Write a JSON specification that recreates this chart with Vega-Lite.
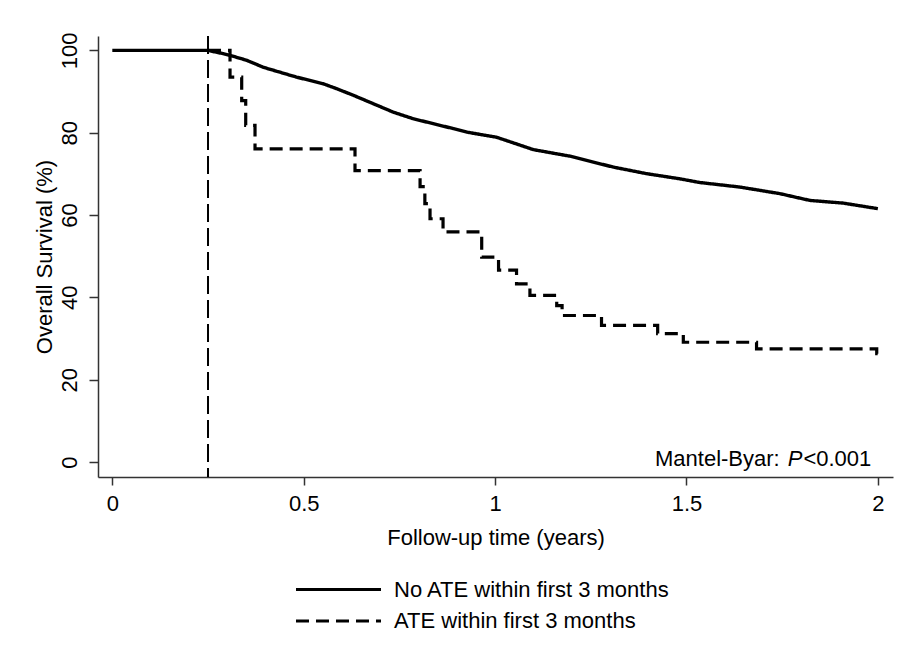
{
  "$schema": "https://vega.github.io/schema/vega-lite/v6.json",
  "width": 795,
  "height": 441,
  "autosize": {"type": "none"},
  "padding": {"left": 98, "top": 36, "right": 10, "bottom": 179},
  "background": "white",
  "config": {
    "view": {"stroke": null},
    "font": "Liberation Sans",
    "axis": {
      "grid": false,
      "domainColor": "#333333",
      "domainWidth": 1.5,
      "tickColor": "#333333",
      "tickWidth": 1.5,
      "labelFont": "Liberation Sans",
      "labelFontSize": 22,
      "labelColor": "black",
      "titleFont": "Liberation Sans",
      "titleFontSize": 22,
      "titleFontWeight": "normal",
      "titleColor": "black"
    },
    "legend": {
      "orient": "none",
      "legendX": 228,
      "legendY": 541,
      "symbolType": "M-4,0H4",
      "symbolSize": 451.6,
      "symbolStrokeWidth": 3,
      "symbolStrokeColor": "black",
      "labelFont": "Liberation Sans",
      "labelFontSize": 22,
      "labelColor": "black",
      "labelOffset": 43,
      "labelLimit": 0,
      "rowPadding": 7.5
    }
  },
  "datasets": {
    "curves": [
      {"t": 0, "s": 100, "g": "No ATE within first 3 months"},
      {"t": 0.25, "s": 100, "g": "No ATE within first 3 months"},
      {"t": 0.29, "s": 99.2, "g": "No ATE within first 3 months"},
      {"t": 0.3075, "s": 98.8, "g": "No ATE within first 3 months"},
      {"t": 0.351, "s": 97.6, "g": "No ATE within first 3 months"},
      {"t": 0.3945, "s": 95.9, "g": "No ATE within first 3 months"},
      {"t": 0.438, "s": 94.7, "g": "No ATE within first 3 months"},
      {"t": 0.4817, "s": 93.5, "g": "No ATE within first 3 months"},
      {"t": 0.551, "s": 91.9, "g": "No ATE within first 3 months"},
      {"t": 0.586, "s": 90.7, "g": "No ATE within first 3 months"},
      {"t": 0.6296, "s": 89.1, "g": "No ATE within first 3 months"},
      {"t": 0.6818, "s": 87.05, "g": "No ATE within first 3 months"},
      {"t": 0.734, "s": 85.0, "g": "No ATE within first 3 months"},
      {"t": 0.786, "s": 83.4, "g": "No ATE within first 3 months"},
      {"t": 0.8386, "s": 82.2, "g": "No ATE within first 3 months"},
      {"t": 0.8908, "s": 81.0, "g": "No ATE within first 3 months"},
      {"t": 0.9258, "s": 80.15, "g": "No ATE within first 3 months"},
      {"t": 1.004, "s": 78.9, "g": "No ATE within first 3 months"},
      {"t": 1.0998, "s": 75.9, "g": "No ATE within first 3 months"},
      {"t": 1.1957, "s": 74.3, "g": "No ATE within first 3 months"},
      {"t": 1.3088, "s": 71.65, "g": "No ATE within first 3 months"},
      {"t": 1.396, "s": 70.05, "g": "No ATE within first 3 months"},
      {"t": 1.483, "s": 68.8, "g": "No ATE within first 3 months"},
      {"t": 1.535, "s": 67.9, "g": "No ATE within first 3 months"},
      {"t": 1.6396, "s": 66.8, "g": "No ATE within first 3 months"},
      {"t": 1.744, "s": 65.2, "g": "No ATE within first 3 months"},
      {"t": 1.8226, "s": 63.55, "g": "No ATE within first 3 months"},
      {"t": 1.9096, "s": 62.9, "g": "No ATE within first 3 months"},
      {"t": 2.0, "s": 61.55, "g": "No ATE within first 3 months"},
      {"t": 0.25, "s": 100, "g": "ATE within first 3 months"},
      {"t": 0.3075, "s": 93.5, "g": "ATE within first 3 months"},
      {"t": 0.338, "s": 87.8, "g": "ATE within first 3 months"},
      {"t": 0.3485, "s": 81.8, "g": "ATE within first 3 months"},
      {"t": 0.3728, "s": 76.1, "g": "ATE within first 3 months"},
      {"t": 0.634, "s": 70.8, "g": "ATE within first 3 months"},
      {"t": 0.804, "s": 66.9, "g": "ATE within first 3 months"},
      {"t": 0.8165, "s": 62.8, "g": "ATE within first 3 months"},
      {"t": 0.83, "s": 59.1, "g": "ATE within first 3 months"},
      {"t": 0.864, "s": 55.9, "g": "ATE within first 3 months"},
      {"t": 0.965, "s": 49.8, "g": "ATE within first 3 months"},
      {"t": 1.009, "s": 46.6, "g": "ATE within first 3 months"},
      {"t": 1.056, "s": 43.3, "g": "ATE within first 3 months"},
      {"t": 1.091, "s": 40.5, "g": "ATE within first 3 months"},
      {"t": 1.161, "s": 38.0, "g": "ATE within first 3 months"},
      {"t": 1.175, "s": 35.6, "g": "ATE within first 3 months"},
      {"t": 1.278, "s": 33.2, "g": "ATE within first 3 months"},
      {"t": 1.4247, "s": 31.2, "g": "ATE within first 3 months"},
      {"t": 1.4917, "s": 29.1, "g": "ATE within first 3 months"},
      {"t": 1.683, "s": 27.5, "g": "ATE within first 3 months"},
      {"t": 1.997, "s": 26.3, "g": "ATE within first 3 months"},
      {"t": 2.0, "s": 26.3, "g": "ATE within first 3 months"}
    ],
    "landmark": [{"t": 0.25}],
    "ann": [
      {"t": 1.4177, "s": -0.9, "txt": "Mantel-Byar:", "it": false},
      {"t": 1.7645, "s": -0.9, "txt": "P", "it": true},
      {"t": 1.8055, "s": -0.9, "txt": "<0.001", "it": false}
    ]
  },
  "layer": [
    {
      "data": {"name": "landmark"},
      "mark": {"type": "rule", "color": "black", "strokeWidth": 2, "strokeDash": [18, 6]},
      "encoding": {
        "x": {"field": "t", "type": "quantitative", "scale": {"domain": [-0.0374, 2.0395], "nice": false, "zero": false}}
      }
    },
    {
      "data": {"name": "curves"},
      "transform": [{"filter": "datum.g == 'No ATE within first 3 months'"}],
      "mark": {"type": "line", "color": "black", "strokeWidth": 3.4, "interpolate": "linear"},
      "encoding": {
        "x": {"field": "t", "type": "quantitative", "scale": {"domain": [-0.0374, 2.0395], "nice": false, "zero": false},
          "axis": {"values": [0, 0.5, 1, 1.5, 2], "format": "~g", "title": "Follow-up time (years)", "tickSize": 8, "labelBaseline": "alphabetic", "labelPadding": 25, "titleBaseline": "alphabetic", "titlePadding": 30}},
        "y": {"field": "s", "type": "quantitative", "scale": {"domain": [-3.64, 103.5], "nice": false, "zero": false},
          "axis": {"values": [0, 20, 40, 60, 80, 100], "title": "Overall Survival (%)", "tickSize": 9, "labelAngle": -90, "labelAlign": "center", "labelBaseline": "alphabetic", "labelPadding": 13, "titleBaseline": "alphabetic", "titlePadding": 7}},
        "strokeDash": {"field": "g", "type": "nominal",
          "scale": {"domain": ["No ATE within first 3 months", "ATE within first 3 months"], "range": [[1, 0], [13, 7]]},
          "legend": {"title": null}}
      }
    },
    {
      "data": {"name": "curves"},
      "transform": [{"filter": "datum.g == 'ATE within first 3 months'"}],
      "mark": {"type": "line", "color": "black", "strokeWidth": 3.2, "interpolate": "step-after"},
      "encoding": {
        "x": {"field": "t", "type": "quantitative"},
        "y": {"field": "s", "type": "quantitative"},
        "strokeDash": {"field": "g", "type": "nominal"}
      }
    },
    {
      "data": {"name": "ann"},
      "transform": [{"filter": "!datum.it"}],
      "mark": {"type": "text", "align": "left", "baseline": "alphabetic", "fontSize": 22, "font": "Liberation Sans", "color": "black"},
      "encoding": {
        "x": {"field": "t", "type": "quantitative"},
        "y": {"field": "s", "type": "quantitative"},
        "text": {"field": "txt"}
      }
    },
    {
      "data": {"name": "ann"},
      "transform": [{"filter": "datum.it"}],
      "mark": {"type": "text", "align": "left", "baseline": "alphabetic", "fontSize": 22, "font": "Liberation Sans", "fontStyle": "italic", "color": "black"},
      "encoding": {
        "x": {"field": "t", "type": "quantitative"},
        "y": {"field": "s", "type": "quantitative"},
        "text": {"field": "txt"}
      }
    }
  ]
}
